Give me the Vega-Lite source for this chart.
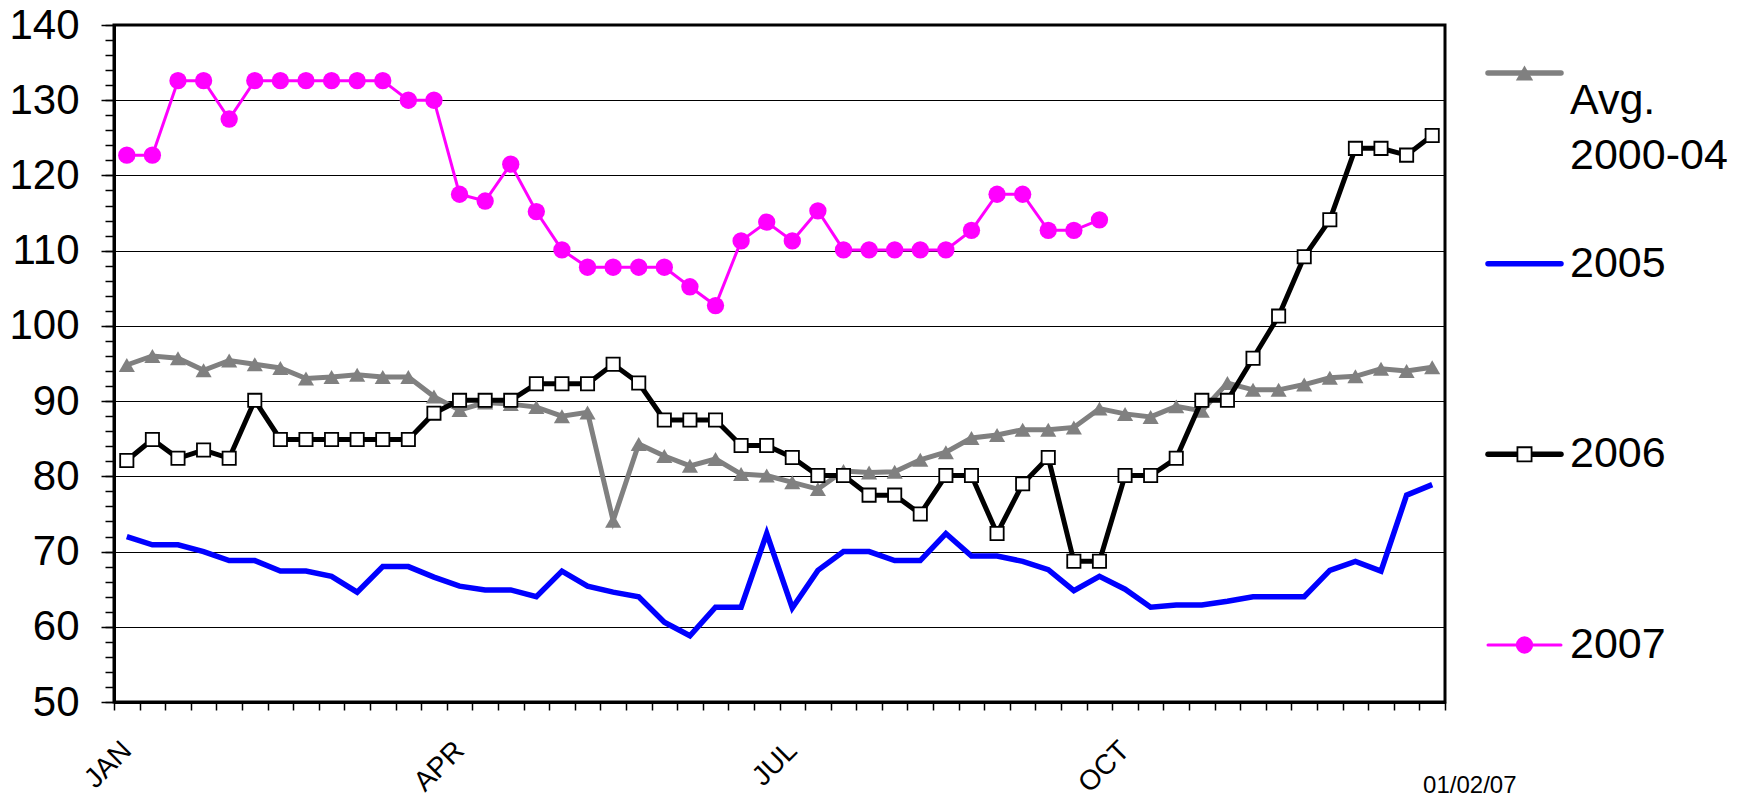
{
  "$schema": "https://vega.github.io/schema/vega-lite/v6.json",
  "autosize": {"type": "pad"},
  "padding": {"left": 7, "top": 2, "right": 0, "bottom": 0},
  "bounds": "flush",
  "spacing": 43,
  "config": {"font": "Liberation Sans", "view": {"stroke": null}},
  "datasets": {
    "weekly": [
      {"week": 1, "avg": 94.8, "y2005": 72.0, "y2006": 82.1, "y2007": 122.7},
      {"week": 2, "avg": 96.0, "y2005": 70.9, "y2006": 84.9, "y2007": 122.7},
      {"week": 3, "avg": 95.7, "y2005": 70.9, "y2006": 82.4, "y2007": 132.6},
      {"week": 4, "avg": 94.1, "y2005": 70.0, "y2006": 83.5, "y2007": 132.6},
      {"week": 5, "avg": 95.4, "y2005": 68.8, "y2006": 82.4, "y2007": 127.5},
      {"week": 6, "avg": 94.9, "y2005": 68.8, "y2006": 90.1, "y2007": 132.6},
      {"week": 7, "avg": 94.4, "y2005": 67.4, "y2006": 84.9, "y2007": 132.6},
      {"week": 8, "avg": 93.0, "y2005": 67.4, "y2006": 84.9, "y2007": 132.6},
      {"week": 9, "avg": 93.2, "y2005": 66.7, "y2006": 84.9, "y2007": 132.6},
      {"week": 10, "avg": 93.5, "y2005": 64.6, "y2006": 84.9, "y2007": 132.6},
      {"week": 11, "avg": 93.2, "y2005": 68.0, "y2006": 84.9, "y2007": 132.6},
      {"week": 12, "avg": 93.2, "y2005": 68.0, "y2006": 84.9, "y2007": 130.0},
      {"week": 13, "avg": 90.6, "y2005": 66.6, "y2006": 88.4, "y2007": 130.0},
      {"week": 14, "avg": 88.8, "y2005": 65.4, "y2006": 90.1, "y2007": 117.5},
      {"week": 15, "avg": 89.8, "y2005": 64.9, "y2006": 90.1, "y2007": 116.6},
      {"week": 16, "avg": 89.6, "y2005": 64.9, "y2006": 90.1, "y2007": 121.5},
      {"week": 17, "avg": 89.2, "y2005": 64.0, "y2006": 92.3, "y2007": 115.2},
      {"week": 18, "avg": 88.0, "y2005": 67.4, "y2006": 92.3, "y2007": 110.1},
      {"week": 19, "avg": 88.5, "y2005": 65.4, "y2006": 92.3, "y2007": 107.8},
      {"week": 20, "avg": 74.1, "y2005": 64.6, "y2006": 94.9, "y2007": 107.8},
      {"week": 21, "avg": 84.3, "y2005": 64.0, "y2006": 92.4, "y2007": 107.8},
      {"week": 22, "avg": 82.7, "y2005": 60.6, "y2006": 87.5, "y2007": 107.8},
      {"week": 23, "avg": 81.4, "y2005": 58.8, "y2006": 87.5, "y2007": 105.2},
      {"week": 24, "avg": 82.3, "y2005": 62.6, "y2006": 87.5, "y2007": 102.7},
      {"week": 25, "avg": 80.3, "y2005": 62.6, "y2006": 84.1, "y2007": 111.3},
      {"week": 26, "avg": 80.1, "y2005": 72.4, "y2006": 84.1, "y2007": 113.8},
      {"week": 27, "avg": 79.2, "y2005": 62.5, "y2006": 82.5, "y2007": 111.3},
      {"week": 28, "avg": 78.3, "y2005": 67.5, "y2006": 80.1, "y2007": 115.3},
      {"week": 29, "avg": 80.7, "y2005": 70.0, "y2006": 80.1, "y2007": 110.1},
      {"week": 30, "avg": 80.5, "y2005": 70.0, "y2006": 77.5, "y2007": 110.1},
      {"week": 31, "avg": 80.6, "y2005": 68.8, "y2006": 77.5, "y2007": 110.1},
      {"week": 32, "avg": 82.2, "y2005": 68.8, "y2006": 75.0, "y2007": 110.1},
      {"week": 33, "avg": 83.2, "y2005": 72.4, "y2006": 80.1, "y2007": 110.1},
      {"week": 34, "avg": 85.1, "y2005": 69.4, "y2006": 80.1, "y2007": 112.7},
      {"week": 35, "avg": 85.5, "y2005": 69.4, "y2006": 72.4, "y2007": 117.5},
      {"week": 36, "avg": 86.2, "y2005": 68.7, "y2006": 79.0, "y2007": 117.5},
      {"week": 37, "avg": 86.2, "y2005": 67.6, "y2006": 82.5, "y2007": 112.7},
      {"week": 38, "avg": 86.5, "y2005": 64.8, "y2006": 68.7, "y2007": 112.7},
      {"week": 39, "avg": 89.0, "y2005": 66.7, "y2006": 68.7, "y2007": 114.1},
      {"week": 40, "avg": 88.3, "y2005": 65.0, "y2006": 80.1},
      {"week": 41, "avg": 87.9, "y2005": 62.6, "y2006": 80.1},
      {"week": 42, "avg": 89.3, "y2005": 62.9, "y2006": 82.4},
      {"week": 43, "avg": 88.7, "y2005": 62.9, "y2006": 90.1},
      {"week": 44, "avg": 92.4, "y2005": 63.4, "y2006": 90.1},
      {"week": 45, "avg": 91.5, "y2005": 64.0, "y2006": 95.7},
      {"week": 46, "avg": 91.5, "y2005": 64.0, "y2006": 101.3},
      {"week": 47, "avg": 92.2, "y2005": 64.0, "y2006": 109.2},
      {"week": 48, "avg": 93.1, "y2005": 67.5, "y2006": 114.1},
      {"week": 49, "avg": 93.3, "y2005": 68.7, "y2006": 123.6},
      {"week": 50, "avg": 94.3, "y2005": 67.4, "y2006": 123.6},
      {"week": 51, "avg": 94.0, "y2005": 77.5, "y2006": 122.7},
      {"week": 52, "avg": 94.5, "y2005": 78.9, "y2006": 125.3}
    ],
    "legend": [
      {"series": "Avg. 2000-04"},
      {"series": "2005"},
      {"series": "2006"},
      {"series": "2007"}
    ]
  },
  "hconcat": [
    {
      "width": 1331,
      "height": 677,
      "view": {"stroke": "black", "strokeWidth": 3},
      "data": {"name": "weekly"},
      "resolve": {"axis": {"x": "independent", "y": "independent"}},
      "layer": [
        {
          "mark": {"type": "line", "color": "#808080", "strokeWidth": 5},
          "encoding": {
            "x": {
              "field": "week", "type": "quantitative",
              "scale": {"domain": [0.5, 52.5], "nice": false, "zero": false},
              "axis": {
                "orient": "bottom",
                "values": [0.5, 1.5, 2.5, 3.5, 4.5, 5.5, 6.5, 7.5, 8.5, 9.5, 10.5, 11.5, 12.5, 13.5, 14.5, 15.5, 16.5, 17.5, 18.5, 19.5, 20.5, 21.5, 22.5, 23.5, 24.5, 25.5, 26.5, 27.5, 28.5, 29.5, 30.5, 31.5, 32.5, 33.5, 34.5, 35.5, 36.5, 37.5, 38.5, 39.5, 40.5, 41.5, 42.5, 43.5, 44.5, 45.5, 46.5, 47.5, 48.5, 49.5, 50.5, 51.5, 52.5],
                "labels": false, "grid": false, "title": null,
                "tickSize": 8, "tickWidth": 1.5, "tickColor": "black",
                "domainColor": "black", "domainWidth": 3
              }
            },
            "y": {
              "field": "avg", "type": "quantitative",
              "scale": {"domain": [50, 140], "nice": false, "zero": false},
              "axis": {
                "orient": "left",
                "values": [50, 60, 70, 80, 90, 100, 110, 120, 130, 140],
                "title": null,
                "tickSize": 13, "tickWidth": 1.5, "tickColor": "black",
                "domainColor": "black", "domainWidth": 3,
                "labelFontSize": 42, "labelColor": "black", "labelPadding": 22,
                "labelFont": "Liberation Sans", "labelFlush": false,
                "grid": true, "gridColor": "black", "gridWidth": 1, "gridOpacity": 1
              }
            }
          }
        },
        {
          "mark": {"type": "point", "shape": "triangle-up", "filled": true, "color": "#808080", "size": 260, "opacity": 1},
          "encoding": {
            "x": {"field": "week", "type": "quantitative", "axis": null},
            "y": {"field": "avg", "type": "quantitative", "axis": null}
          }
        },
        {
          "mark": {"type": "line", "color": "#0000FF", "strokeWidth": 5.5},
          "encoding": {
            "x": {
              "field": "week", "type": "quantitative",
              "axis": {
                "orient": "bottom",
                "values": [1, 14, 27, 40],
                "labelExpr": "datum.value == 1 ? 'JAN' : datum.value == 14 ? 'APR' : datum.value == 27 ? 'JUL' : datum.value == 40 ? 'OCT' : ''",
                "ticks": false, "tickSize": 0, "domain": false, "grid": false,
                "labelAngle": -45, "labelAlign": "right", "labelBaseline": "middle",
                "labelFontSize": 28, "labelColor": "black", "labelPadding": 44,
                "labelFont": "Liberation Sans",
                "labelOverlap": false, "labelFlush": false, "labelBound": false,
                "title": "01/02/07", "titleX": 1402, "titleY": 90,
                "titleAlign": "right", "titleAnchor": "end", "titleBaseline": "alphabetic",
                "titleFontSize": 24, "titleFontWeight": "normal", "titleColor": "black",
                "titleFont": "Liberation Sans"
              }
            },
            "y": {
              "field": "y2005", "type": "quantitative",
              "axis": {
                "orient": "left",
                "values": [50, 52, 54, 56, 58, 60, 62, 64, 66, 68, 70, 72, 74, 76, 78, 80, 82, 84, 86, 88, 90, 92, 94, 96, 98, 100, 102, 104, 106, 108, 110, 112, 114, 116, 118, 120, 122, 124, 126, 128, 130, 132, 134, 136, 138, 140],
                "labels": false, "domain": false, "grid": false, "title": null,
                "tickSize": 9, "tickWidth": 1.5, "tickColor": "black"
              }
            }
          }
        },
        {
          "mark": {"type": "line", "color": "#000000", "strokeWidth": 5},
          "encoding": {
            "x": {"field": "week", "type": "quantitative", "axis": null},
            "y": {"field": "y2006", "type": "quantitative", "axis": null}
          }
        },
        {
          "mark": {"type": "point", "shape": "square", "filled": true, "fill": "white", "stroke": "black", "strokeWidth": 1.8, "size": 175, "opacity": 1},
          "encoding": {
            "x": {"field": "week", "type": "quantitative", "axis": null},
            "y": {"field": "y2006", "type": "quantitative", "axis": null}
          }
        },
        {
          "mark": {"type": "line", "color": "#FF00FF", "strokeWidth": 3},
          "encoding": {
            "x": {"field": "week", "type": "quantitative", "axis": null},
            "y": {"field": "y2007", "type": "quantitative", "axis": null}
          }
        },
        {
          "mark": {"type": "point", "shape": "circle", "filled": true, "color": "#FF00FF", "size": 300, "opacity": 1},
          "encoding": {
            "x": {"field": "week", "type": "quantitative", "axis": null},
            "y": {"field": "y2007", "type": "quantitative", "axis": null}
          }
        }
      ]
    },
    {
      "width": 73,
      "height": 677,
      "view": {"stroke": null},
      "data": {"name": "legend"},
      "encoding": {
        "y": {
          "field": "series", "type": "nominal",
          "scale": {"type": "point", "domain": ["Avg. 2000-04", "2005", "2006", "2007"], "range": [48, 620], "padding": 0},
          "axis": null
        }
      },
      "layer": [
        {
          "transform": [{"filter": "datum.series != '2007'"}],
          "mark": {"type": "rule", "strokeWidth": 5.5, "strokeCap": "round"},
          "encoding": {
            "x": {"datum": 0, "type": "quantitative", "scale": {"domain": [0, 1], "nice": false, "zero": false}, "axis": null},
            "x2": {"datum": 1},
            "color": {
              "field": "series", "type": "nominal",
              "scale": {"domain": ["Avg. 2000-04", "2005", "2006", "2007"], "range": ["#808080", "#0000FF", "#000000", "#FF00FF"]},
              "legend": null
            }
          }
        },
        {
          "transform": [{"filter": "datum.series == '2007'"}],
          "mark": {"type": "rule", "strokeWidth": 3, "strokeCap": "round"},
          "encoding": {
            "x": {"datum": 0, "type": "quantitative", "axis": null},
            "x2": {"datum": 1},
            "color": {"field": "series", "type": "nominal", "legend": null}
          }
        },
        {
          "transform": [{"filter": "datum.series == 'Avg. 2000-04'"}],
          "mark": {"type": "point", "shape": "triangle-up", "filled": true, "color": "#808080", "size": 300, "opacity": 1},
          "encoding": {"x": {"datum": 0.5, "type": "quantitative", "axis": null}}
        },
        {
          "transform": [{"filter": "datum.series == '2006'"}],
          "mark": {"type": "point", "shape": "square", "filled": true, "fill": "white", "stroke": "black", "strokeWidth": 1.8, "size": 200, "opacity": 1},
          "encoding": {"x": {"datum": 0.5, "type": "quantitative", "axis": null}}
        },
        {
          "transform": [{"filter": "datum.series == '2007'"}],
          "mark": {"type": "point", "shape": "circle", "filled": true, "color": "#FF00FF", "size": 300, "opacity": 1},
          "encoding": {"x": {"datum": 0.5, "type": "quantitative", "axis": null}}
        },
        {
          "transform": [{"filter": "datum.series == 'Avg. 2000-04'"}],
          "mark": {"type": "text", "align": "left", "baseline": "middle", "dx": 9, "dy": 27.5, "fontSize": 43, "lineBreak": " ", "lineHeight": 55, "color": "black", "font": "Liberation Sans"},
          "encoding": {
            "x": {"datum": 1, "type": "quantitative", "axis": null},
            "text": {"field": "series"}
          }
        },
        {
          "transform": [{"filter": "datum.series != 'Avg. 2000-04'"}],
          "mark": {"type": "text", "align": "left", "baseline": "middle", "dx": 9, "fontSize": 43, "color": "black", "font": "Liberation Sans"},
          "encoding": {
            "x": {"datum": 1, "type": "quantitative", "axis": null},
            "text": {"field": "series"}
          }
        }
      ]
    }
  ]
}
